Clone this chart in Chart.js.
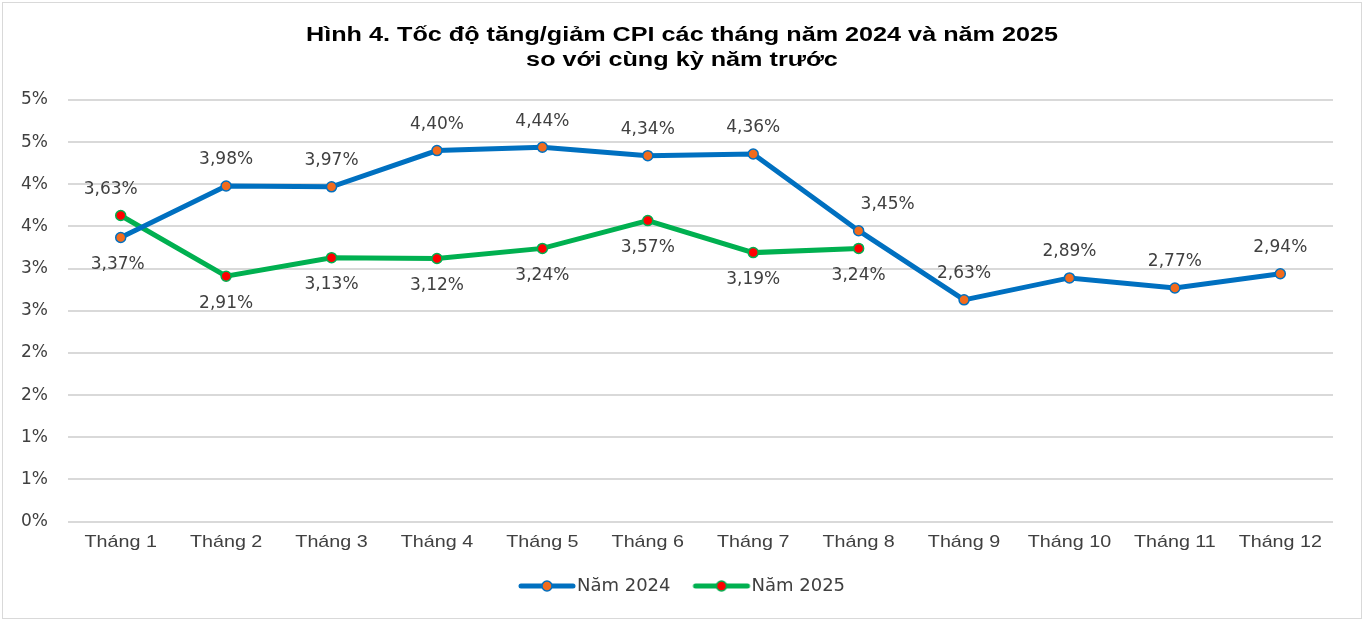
<!DOCTYPE html>
<html>
<head>
<meta charset="utf-8">
<script src="https://cdn.jsdelivr.net/npm/chart.js@4.4.1/dist/chart.umd.min.js"></script>
<style>
  html, body { margin: 0; padding: 0; background: #fff; }
  #wrap { width: 1364px; height: 621px; }
</style>
</head>
<body>
<div id="wrap"><canvas id="cpi"></canvas></div>
<script>
const months = ['Tháng 1','Tháng 2','Tháng 3','Tháng 4','Tháng 5','Tháng 6','Tháng 7','Tháng 8','Tháng 9','Tháng 10','Tháng 11','Tháng 12'];
const cpi2024 = [3.37, 3.98, 3.97, 4.40, 4.44, 4.34, 4.36, 3.45, 2.63, 2.89, 2.77, 2.94];
const cpi2025 = [3.63, 2.91, 3.13, 3.12, 3.24, 3.57, 3.19, 3.24, null, null, null, null];
const yTicks = [0, 0.5, 1, 1.5, 2, 2.5, 3, 3.5, 4, 4.5, 5];
const titleLines = ['Hình 4. Tốc độ tăng/giảm CPI các tháng năm 2024 và năm 2025', 'so với cùng kỳ năm trước'];

const BLUE = '#0070C0', ORANGE = '#F26B1D', GREEN = '#00B050', RED = '#FF0000';

// legend swatch: line with a dot in the middle
function swatch(lineCol, dotCol) {
    const c = document.createElement('canvas');
    c.width = 66; c.height = 14;
    const g = c.getContext('2d');
    g.strokeStyle = lineCol; g.lineWidth = 5; g.lineCap = 'round';
    g.beginPath(); g.moveTo(7, 7); g.lineTo(59, 7); g.stroke();
    g.beginPath(); g.arc(33, 7, 5, 0, Math.PI * 2);
    g.fillStyle = dotCol; g.fill();
    g.lineWidth = 1.5; g.strokeStyle = lineCol; g.stroke();
    return c;
}

// value labels: 'up' or 'down' per point
const pos2024 = ['down','up','up','up','up','up','up','up','up','up','up','up'];
const pos2025 = ['up','down','down','down','down','down','down','down'];

const valueLabels = {
    id: 'valueLabels',
    afterDatasetsDraw(chart) {
        const ctx = chart.ctx;
        ctx.save();
        ctx.font = '17px "DejaVu Sans", Verdana, sans-serif';
        ctx.fillStyle = '#404040';
        ctx.textAlign = 'center';
        ctx.textBaseline = 'middle';
        chart.data.datasets.forEach((ds, i) => {
            const meta = chart.getDatasetMeta(i);
            const where = i === 0 ? pos2024 : pos2025;
            meta.data.forEach((pt, j) => {
                const v = ds.data[j];
                if (v == null) return;
                let dx = 0;
                if (i === 0 && j === 7) dx = 29;
                if (i === 1 && j === 0) dx = -10;
                if (i === 0 && j === 0) dx = -3;
                const dy = where[j] === 'up' ? -26 : 27;
                ctx.fillText(v.toFixed(2).replace('.', ',') + '%', pt.x + dx, pt.y + dy);
            });
        });
        ctx.restore();
    }
};

// background, frame, wide title and wide x labels
const frame = {
    id: 'frame',
    afterLayout(chart) {
        // nudge legend to the right, like the original
        chart.legend.left += 14;
        chart.legend.right += 14;
    },
    beforeDraw(chart) {
        const ctx = chart.ctx;
        ctx.save();
        ctx.fillStyle = '#fff';
        ctx.fillRect(0, 0, chart.width, chart.height);
        ctx.strokeStyle = '#d9d9d9';
        ctx.lineWidth = 1;
        ctx.strokeRect(2.5, 2.5, chart.width - 5, chart.height - 5);
        ctx.restore();
    },
    afterDraw(chart) {
        const ctx = chart.ctx;
        ctx.save();
        ctx.textAlign = 'center';
        ctx.textBaseline = 'middle';
        ctx.fillStyle = '#000';
        ctx.font = 'bold 20px "Liberation Sans", Arial, sans-serif';
        titleLines.forEach((t, k) => {
            ctx.save();
            ctx.translate(682, 35 + k * 25);
            ctx.scale(1.26, 1);
            ctx.fillText(t, 0, 0);
            ctx.restore();
        });
        const xs = chart.scales.x;
        ctx.fillStyle = '#404040';
        ctx.font = '17px "Liberation Sans", Arial, sans-serif';
        months.forEach((m, i) => {
            ctx.save();
            ctx.translate(xs.getPixelForTick(i), chart.chartArea.bottom + 21);
            ctx.scale(1.16, 1);
            ctx.fillText(m, 0, 0);
            ctx.restore();
        });
        ctx.restore();
    }
};

new Chart(document.getElementById('cpi'), {
    type: 'line',
    data: {
        labels: months,
        datasets: [
            {
                label: 'Năm 2024',
                data: cpi2024,
                borderColor: BLUE,
                borderWidth: 5,
                pointBackgroundColor: ORANGE,
                pointBorderColor: BLUE,
                pointBorderWidth: 1.5,
                pointRadius: 5,
                tension: 0
            },
            {
                label: 'Năm 2025',
                data: cpi2025,
                borderColor: GREEN,
                borderWidth: 5,
                pointBackgroundColor: RED,
                pointBorderColor: GREEN,
                pointBorderWidth: 1.5,
                pointRadius: 5,
                tension: 0
            }
        ]
    },
    options: {
        responsive: true,
        maintainAspectRatio: false,
        animation: false,
        layout: { padding: { left: 10, right: 31, top: 100, bottom: 16 } },
        plugins: {
            title: { display: false },
            legend: {
                position: 'bottom',
                labels: {
                    usePointStyle: true,
                    pointStyleWidth: 42,
                    font: { family: '"DejaVu Sans", Verdana, sans-serif', size: 18 },
                    color: '#404040',
                    padding: 30,
                    generateLabels(chart) {
                        return chart.data.datasets.map((ds, i) => ({
                            text: ds.label,
                            pointStyle: i === 0 ? swatch(BLUE, ORANGE) : swatch(GREEN, RED),
                            datasetIndex: i,
                            fontColor: '#404040',
                            lineWidth: 0
                        }));
                    }
                }
            },
            tooltip: { enabled: false }
        },
        scales: {
            x: {
                offset: true,
                grid: { display: false, drawTicks: false },
                border: { display: false },
                ticks: {
                    font: { size: 12 },
                    color: 'rgba(0,0,0,0)',
                    padding: 5.5,
                    maxRotation: 0,
                    autoSkip: false
                }
            },
            y: {
                min: 0,
                max: 5,
                afterBuildTicks(scale) { scale.ticks = yTicks.map(v => ({ value: v })); },
                afterFit(scale) { scale.width = 58; },
                grid: { color: '#d9d9d9', lineWidth: 2, drawTicks: false },
                border: { display: false },
                ticks: {
                    font: { family: '"DejaVu Sans", Verdana, sans-serif', size: 17 },
                    color: '#404040',
                    padding: 20,
                    callback: v => Math.round(v + 1e-9) + '%'
                }
            }
        }
    },
    plugins: [frame, valueLabels]
});
</script>
</body>
</html>
